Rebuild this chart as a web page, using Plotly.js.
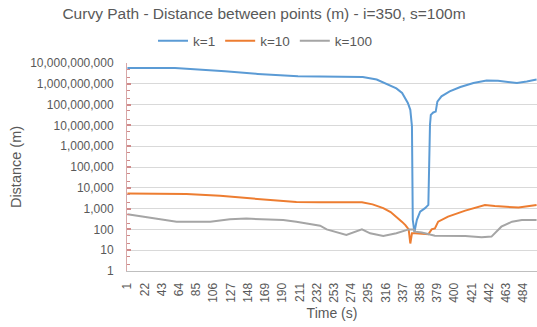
<!DOCTYPE html>
<html>
<head>
<meta charset="utf-8">
<script src="https://cdn.plot.ly/plotly-3.0.1.min.js"></script>
<style>html,body{margin:0;padding:0;background:#fff;}#chart{width:537px;height:327px;}</style>
</head>
<body>
<div id="chart"></div>
<script>
const k1Time = [1, 59, 120, 160, 209, 288, 305, 319, 329, 336, 343, 346, 348, 349, 351, 354, 358, 364, 368, 370, 371, 374, 377, 379, 384, 394, 407, 423, 439, 453, 476, 488, 500];
const k1Dist = [5.7e9, 5.7e9, 4.0e9, 3.0e9, 2.3e9, 2.1e9, 1.6e9, 9.0e8, 6.0e8, 3.6e8, 1.2e8, 5.6e7, 9.0e6, 290, 75, 290, 720, 1050, 1500, 1.07e7, 3.2e7, 4.2e7, 4.6e7, 1.4e8, 2.5e8, 4.3e8, 7.0e8, 1.1e9, 1.45e9, 1.4e9, 1.1e9, 1.3e9, 1.6e9];

const k10Time = [1, 73, 114, 154, 207, 236, 287, 300, 313, 322, 329, 336, 340, 344, 346, 348, 352, 368, 372, 376, 380, 392, 413, 437, 449, 478, 500];
const k10Dist = [5300, 5100, 4100, 2950, 2050, 2000, 2000, 1600, 1050, 680, 410, 230, 160, 100, 21, 65, 65, 58, 100, 112, 235, 410, 800, 1500, 1330, 1120, 1500];

const k100Time = [1, 61, 102, 126, 146, 191, 207, 224, 236, 244, 268, 287, 297, 313, 329, 344, 350, 352, 360, 376, 413, 433, 445, 457, 470, 482, 500];
const k100Dist = [540, 235, 235, 310, 330, 285, 235, 178, 150, 100, 54, 100, 65, 48, 65, 100, 100, 78, 71, 50, 48, 42, 45, 135, 235, 285, 285];

const seriesNames = ["k=1", "k=10", "k=100"];
const xTickVals = [1, 22, 43, 64, 85, 106, 127, 148, 169, 190, 211, 232, 253, 274, 295, 316, 337, 358, 379, 400, 421, 442, 463, 484];
const yTickVals = [1, 10, 100, 1000, 1e4, 1e5, 1e6, 1e7, 1e8, 1e9, 1e10];
const yTickLabels = ["1", "10", "100", "1,000", "10,000", "100,000", "1,000,000", "10,000,000", "100,000,000", "1,000,000,000", "10,000,000,000"];

const FONT = "Liberation Sans, Arial, sans-serif";
const TXT = "#595959";

const traces = [
  {x: k1Time, y: k1Dist, name: seriesNames[0], type: "scatter", mode: "lines", line: {color: "#5b9bd5", width: 2}},
  {x: k10Time, y: k10Dist, name: seriesNames[1], type: "scatter", mode: "lines", line: {color: "#ed7d31", width: 2}},
  {x: k100Time, y: k100Dist, name: seriesNames[2], type: "scatter", mode: "lines", line: {color: "#a5a5a5", width: 2}}
];

const layout = {
  width: 537, height: 327,
  margin: {l: 127, r: 0, t: 63, b: 56, pad: 0},
  paper_bgcolor: "#ffffff", plot_bgcolor: "#ffffff",
  font: {family: FONT, color: TXT, size: 12},
  title: {text: "Curvy Path - Distance between points (m) - i=350, s=100m", font: {family: FONT, size: 15.5, color: TXT}, x: 264/537, xref: "container", y: 1 - 14/327, yref: "container", xanchor: "center", yanchor: "middle"},
  showlegend: true,
  legend: {orientation: "h", x: 265/537, xref: "container", xanchor: "center", y: 1 - 41/327, yref: "container", yanchor: "middle", font: {family: FONT, size: 13.5, color: TXT}, itemwidth: 30, tracegroupgap: 0, bgcolor: "rgba(0,0,0,0)"},
  xaxis: {
    type: "linear", range: [0.5, 500.5], tickmode: "array", tickvals: xTickVals, tickangle: -90,
    showgrid: false, zeroline: false, showline: true, linecolor: "#bfbfbf", linewidth: 1,
    ticks: "", tickfont: {family: FONT, size: 12, color: TXT}, ticklabelstandoff: 6,
    title: {text: "Time (s)", font: {family: FONT, size: 14, color: TXT}, standoff: 6}
  },
  yaxis: {
    type: "log", range: [0, 10], tickmode: "array", tickvals: yTickVals, ticktext: yTickLabels,
    showgrid: true, gridcolor: "#d9d9d9", gridwidth: 1, zeroline: false,
    showline: true, linecolor: "#d8a8a8", linewidth: 1,
    ticks: "inside", ticklen: 4, tickcolor: "#d08a8a", tickwidth: 2,
    minor: {ticks: "inside", ticklen: 3, tickcolor: "#d08a8a", tickwidth: 1, showgrid: false},
    tickfont: {family: FONT, size: 12, color: TXT}, ticklabelstandoff: 10,
    title: {text: "Distance (m)", font: {family: FONT, size: 14.5, color: TXT}, standoff: 5}
  }
};

Plotly.newPlot("chart", traces, layout, {displayModeBar: false, staticPlot: true});
</script>
</body>
</html>
